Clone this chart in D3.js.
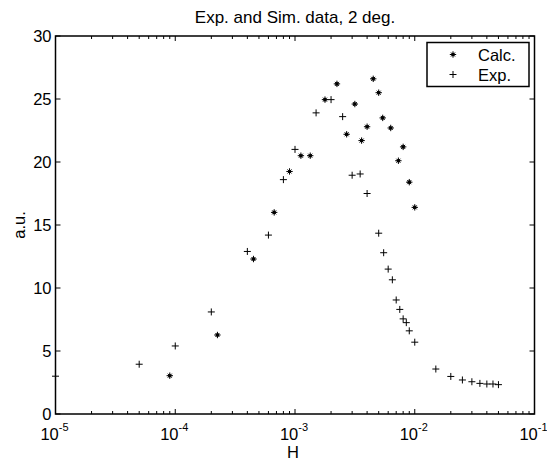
<!DOCTYPE html>
<html>
<head>
<meta charset="utf-8">
<script src="https://cdn.jsdelivr.net/npm/d3@7"></script>
<style>
  body { margin: 0; background: #fff; }
  text { font-family: "Liberation Sans", Arial, sans-serif; fill: #000; }
</style>
</head>
<body>
<svg id="chart" width="547" height="459"></svg>
<script>
// measured points
const expH = [1e-5, 5e-5, 1e-4, 2e-4, 4e-4, 6e-4, 8e-4, 1e-3, 1.5e-3, 2e-3, 2.5e-3, 3e-3, 3.5e-3, 4e-3,
  5e-3, 5.5e-3, 6e-3, 6.5e-3, 7e-3, 7.5e-3, 8e-3, 8.5e-3, 9e-3, 1e-2, 1.5e-2, 2e-2, 2.5e-2, 3e-2,
  3.5e-2, 4e-2, 4.5e-2, 5e-2];
const expVal = [3.0, 3.95, 5.4, 8.1, 12.9, 14.2, 18.6, 21.0, 23.9, 24.95, 23.6, 18.95, 19.05, 17.5,
  14.35, 12.8, 11.5, 10.65, 9.05, 8.3, 7.55, 7.25, 6.6, 5.7, 3.57, 2.98, 2.7, 2.56,
  2.43, 2.38, 2.38, 2.33];

// simulated points
const calcH = [9e-5, 2.25e-4, 4.5e-4, 6.7e-4, 9e-4, 1.12e-3, 1.34e-3, 1.78e-3, 2.24e-3, 2.7e-3, 3.16e-3,
  3.6e-3, 4e-3, 4.5e-3, 5e-3, 5.4e-3, 6.3e-3, 7.3e-3, 8e-3, 9e-3, 1e-2];
const calcVal = [3.04, 6.27, 12.3, 16.0, 19.25, 20.5, 20.5, 24.95, 26.2, 22.2, 24.6,
  21.7, 22.8, 26.6, 25.5, 23.5, 22.7, 20.1, 21.2, 18.4, 16.4];

const yTicks = [0, 5, 10, 15, 20, 25, 30];
const xExponents = [-5, -4, -3, -2, -1];
const legendLabels = ["Calc.", "Exp."];

const plot = { left: 55.5, right: 534.5, top: 36, bottom: 414 };

const plusPath = "M-3.5,0H3.5M0,-3.5V3.5";
const starPath = "M-3.2,0H3.2M0,-3.2V3.2M-2,-2L2,2M-2,2L2,-2";

function drawChart() {
  const svg = d3.select("#chart");

  const x = d3.scaleLog().domain([1e-5, 1e-1]).range([plot.left, plot.right]);
  const y = d3.scaleLinear().domain([0, 30]).range([plot.bottom, plot.top]);

  const majors = xExponents.map((e) => Math.pow(10, e));
  const minors = [];
  for (let e = -5; e < -1; e++) {
    for (let m = 2; m <= 9; m++) minors.push(m * Math.pow(10, e));
  }

  // ticks on all four sides, pointing inward
  const g = svg.append("g");
  [{ y0: plot.bottom, dir: -1 }, { y0: plot.top, dir: 1 }].forEach((s) => {
    g.selectAll(null).data(majors).enter().append("line")
      .attr("x1", (d) => x(d)).attr("x2", (d) => x(d))
      .attr("y1", s.y0).attr("y2", s.y0 + s.dir * 5)
      .attr("stroke", "#000").attr("stroke-width", 1);
    g.selectAll(null).data(minors).enter().append("line")
      .attr("x1", (d) => x(d)).attr("x2", (d) => x(d))
      .attr("y1", s.y0).attr("y2", s.y0 + s.dir * 3)
      .attr("stroke", "#000").attr("stroke-width", 1);
  });
  [{ x0: plot.left, dir: 1 }, { x0: plot.right, dir: -1 }].forEach((s) => {
    g.selectAll(null).data(yTicks).enter().append("line")
      .attr("x1", s.x0).attr("x2", s.x0 + s.dir * 5)
      .attr("y1", (d) => y(d)).attr("y2", (d) => y(d))
      .attr("stroke", "#000").attr("stroke-width", 1);
  });

  svg.append("rect")
    .attr("x", plot.left).attr("y", plot.top)
    .attr("width", plot.right - plot.left).attr("height", plot.bottom - plot.top)
    .attr("fill", "none").attr("stroke", "#000").attr("stroke-width", 1.5);

  // y tick labels
  svg.append("g").selectAll("text").data(yTicks).enter().append("text")
    .attr("x", plot.left - 4).attr("y", (d) => y(d))
    .attr("dy", "0.35em").attr("text-anchor", "end")
    .style("font-size", "16.5px")
    .text((d) => d);

  // x tick labels, 10 with superscript exponent
  const xl = svg.append("g").selectAll("text").data(xExponents).enter().append("text")
    .attr("x", (d) => x(Math.pow(10, d)) - 1).attr("y", 440)
    .attr("text-anchor", "middle")
    .style("font-size", "16.5px");
  xl.append("tspan").text("10");
  xl.append("tspan").attr("dy", -9).style("font-size", "11px").text((d) => d);

  // titles
  svg.append("text").attr("x", (plot.left + plot.right) / 2).attr("y", 23)
    .attr("text-anchor", "middle").style("font-size", "17px")
    .text("Exp. and Sim. data, 2 deg.");
  svg.append("text").attr("x", 293).attr("y", 457.5)
    .attr("text-anchor", "middle").style("font-size", "16.5px")
    .text("H");
  svg.append("text")
    .attr("transform", `translate(25, ${(plot.top + plot.bottom) / 2}) rotate(-90)`)
    .attr("text-anchor", "middle").style("font-size", "16.5px")
    .text("a.u.");

  // data markers
  const pts = svg.append("g");
  pts.selectAll(".exp").data(expH.map((h, i) => [h, expVal[i]])).enter().append("path")
    .attr("class", "exp")
    .attr("transform", (d) => `translate(${x(d[0])},${y(d[1])})`)
    .attr("d", plusPath)
    .attr("stroke", "#000").attr("stroke-width", 1).attr("fill", "none");
  const calc = pts.selectAll(".calc").data(calcH.map((h, i) => [h, calcVal[i]])).enter().append("g")
    .attr("class", "calc")
    .attr("transform", (d) => `translate(${x(d[0])},${y(d[1])})`);
  calc.append("path").attr("d", starPath)
    .attr("stroke", "#000").attr("stroke-width", 1).attr("fill", "none");
  calc.append("circle").attr("r", 1.8).attr("fill", "#000");

  // legend
  const lg = svg.append("g");
  lg.append("rect").attr("x", 427).attr("y", 42.5).attr("width", 102).attr("height", 44)
    .attr("fill", "#fff").attr("stroke", "#000").attr("stroke-width", 1.5);
  legendLabels.forEach((label, i) => {
    const cy = 54.5 + i * 20;
    const mk = lg.append("g").attr("transform", `translate(453,${cy})`);
    mk.append("path").attr("d", i === 0 ? starPath : plusPath)
      .attr("stroke", "#000").attr("stroke-width", 1).attr("fill", "none");
    if (i === 0) mk.append("circle").attr("r", 1.8).attr("fill", "#000");
    lg.append("text").attr("x", 478).attr("y", cy + 6)
      .style("font-size", "16.5px").text(label);
  });
}

drawChart();
</script>
</body>
</html>
